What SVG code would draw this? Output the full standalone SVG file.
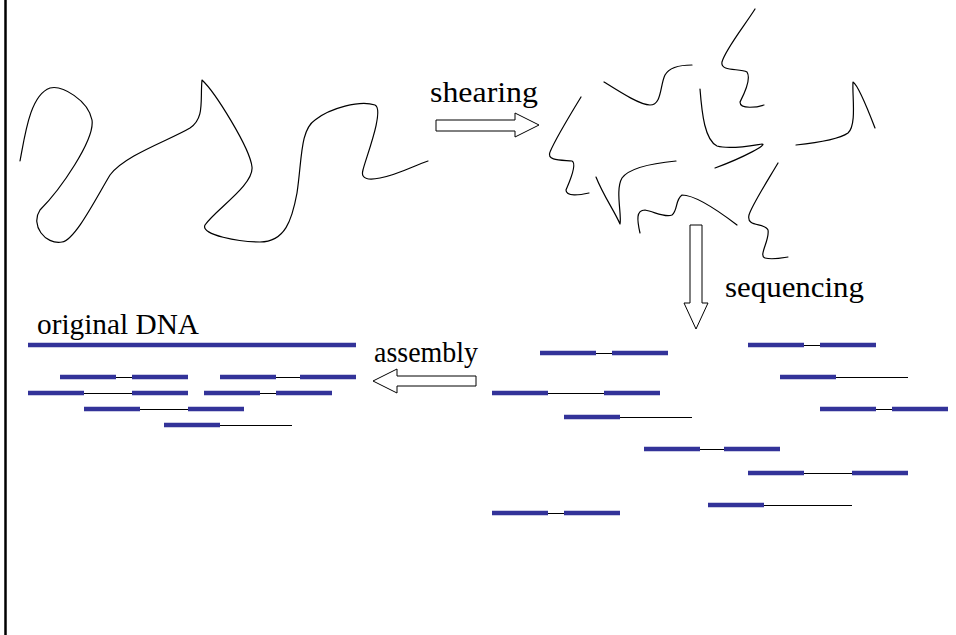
<svg xmlns="http://www.w3.org/2000/svg" width="956" height="635" viewBox="0 0 956 635">
<style>
.curve{fill:none;stroke:#000;stroke-width:1.2;stroke-linecap:round;stroke-linejoin:round}
.lbl{font-family:"Liberation Serif","Times New Roman",serif;font-size:30px;fill:#000}
.blk{fill:#fff;stroke:#000;stroke-width:1}
.bar{stroke:#333399;stroke-width:4.5;stroke-linecap:butt}
.gap{stroke:#000;stroke-width:1;shape-rendering:crispEdges}
</style>
<rect width="956" height="635" fill="#fff"/>
<line x1="5.5" y1="0" x2="5.5" y2="635" stroke="#000" stroke-width="2.5"/>

<g id="genome">
<path class="curve" d="M20,161 C25,135 30,95 50,88 C62,85 88,100 92,120 C95,140 60,190 40,210 C30,225 45,245 62,242 C75,240 95,200 110,175 C125,155 170,140 190,128 C205,118 200,100 202,80 C215,92 250,148 252,167 C254,185 215,210 205,225 C200,235 240,242 260,242 C285,242 292,220 297,193 C302,160 300,130 315,120 C330,108 360,100 375,105 C385,110 365,160 363,170 C360,180 370,180 380,178 C400,174 415,165 428,161"/>
</g>

<g id="fragments">
<path class="curve" d="M581,97 C570,115 555,140 550,152 C546,161 562,160 572,161 C578,164 568,185 566,190 C566,197 580,195 589,193"/>
<path class="curve" d="M604,82 C620,92 640,105 650,105 C662,105 660,85 665,75 C670,66 685,65 692,65"/>
<path class="curve" d="M755,9 C745,25 725,50 722,62 C720,72 740,68 747,72 C752,80 742,98 740,102 C740,110 758,107 764,105"/>
<path class="curve" d="M700,89 C702,115 705,140 717,146 C730,150 755,145 762,144 C768,144 745,157 715,168"/>
<path class="curve" d="M796,145 C815,143 838,140 848,133 C857,125 852,95 853,82 C858,85 870,115 875,128"/>
<path class="curve" d="M676,161 C655,163 630,167 622,178 C615,190 622,215 620,224 C615,212 603,195 596,177"/>
<path class="curve" d="M640,233 C637,220 636,210 645,210 C655,212 665,218 672,215 C678,210 675,200 682,195 C695,195 720,212 737,225"/>
<path class="curve" d="M778,163 C768,180 752,205 749,215 C746,228 765,222 768,230 C770,240 758,256 765,258 C772,260 782,258 788,257"/>
</g>

<g id="labels">
<text class="lbl" x="430" y="102" textLength="108" lengthAdjust="spacingAndGlyphs">shearing</text>
<text class="lbl" x="725" y="297" textLength="139" lengthAdjust="spacingAndGlyphs">sequencing</text>
<text class="lbl" x="37" y="334" textLength="162" lengthAdjust="spacingAndGlyphs">original DNA</text>
<text class="lbl" x="374" y="362" textLength="104" lengthAdjust="spacingAndGlyphs">assembly</text>
</g>

<g id="connectors">
<path id="arrow-shearing" class="blk" d="M436,120 L515,120 L515,113 L539,125 L515,137 L515,131 L436,131 Z"/>
<path id="arrow-sequencing" class="blk" d="M690,225 L702,225 L702,303 L708,303 L696,329 L684,303 L690,303 Z"/>
<path id="arrow-assembly" class="blk" d="M476,376 L397,376 L397,369 L373,381 L397,393 L397,386 L476,386 Z"/>
</g>

<g id="assembled-reads">
<line class="bar" x1="28" y1="345" x2="356" y2="345"/>
<line class="gap" x1="116" y1="377" x2="132" y2="377"/>
<line class="bar" x1="60" y1="377" x2="116" y2="377"/>
<line class="bar" x1="132" y1="377" x2="188" y2="377"/>
<line class="gap" x1="276" y1="377" x2="300" y2="377"/>
<line class="bar" x1="220" y1="377" x2="276" y2="377"/>
<line class="bar" x1="300" y1="377" x2="356" y2="377"/>
<line class="gap" x1="84" y1="393" x2="132" y2="393"/>
<line class="bar" x1="28" y1="393" x2="84" y2="393"/>
<line class="bar" x1="132" y1="393" x2="188" y2="393"/>
<line class="gap" x1="260" y1="393" x2="276" y2="393"/>
<line class="bar" x1="204" y1="393" x2="260" y2="393"/>
<line class="bar" x1="276" y1="393" x2="332" y2="393"/>
<line class="gap" x1="140" y1="409" x2="188" y2="409"/>
<line class="bar" x1="84" y1="409" x2="140" y2="409"/>
<line class="bar" x1="188" y1="409" x2="244" y2="409"/>
<line class="gap" x1="220" y1="425" x2="292" y2="425"/>
<line class="bar" x1="164" y1="425" x2="220" y2="425"/>
</g>

<g id="sequenced-reads">
<line class="gap" x1="596" y1="353" x2="612" y2="353"/>
<line class="bar" x1="540" y1="353" x2="596" y2="353"/>
<line class="bar" x1="612" y1="353" x2="668" y2="353"/>
<line class="gap" x1="804" y1="345" x2="820" y2="345"/>
<line class="bar" x1="748" y1="345" x2="804" y2="345"/>
<line class="bar" x1="820" y1="345" x2="876" y2="345"/>
<line class="gap" x1="836" y1="377" x2="908" y2="377"/>
<line class="bar" x1="780" y1="377" x2="836" y2="377"/>
<line class="gap" x1="548" y1="393" x2="604" y2="393"/>
<line class="bar" x1="492" y1="393" x2="548" y2="393"/>
<line class="bar" x1="604" y1="393" x2="660" y2="393"/>
<line class="gap" x1="876" y1="409" x2="892" y2="409"/>
<line class="bar" x1="820" y1="409" x2="876" y2="409"/>
<line class="bar" x1="892" y1="409" x2="948" y2="409"/>
<line class="gap" x1="620" y1="417" x2="692" y2="417"/>
<line class="bar" x1="564" y1="417" x2="620" y2="417"/>
<line class="gap" x1="700" y1="449" x2="724" y2="449"/>
<line class="bar" x1="644" y1="449" x2="700" y2="449"/>
<line class="bar" x1="724" y1="449" x2="780" y2="449"/>
<line class="gap" x1="804" y1="473" x2="852" y2="473"/>
<line class="bar" x1="748" y1="473" x2="804" y2="473"/>
<line class="bar" x1="852" y1="473" x2="908" y2="473"/>
<line class="gap" x1="764" y1="505" x2="852" y2="505"/>
<line class="bar" x1="708" y1="505" x2="764" y2="505"/>
<line class="gap" x1="548" y1="513" x2="564" y2="513"/>
<line class="bar" x1="492" y1="513" x2="548" y2="513"/>
<line class="bar" x1="564" y1="513" x2="620" y2="513"/>
</g>
</svg>
